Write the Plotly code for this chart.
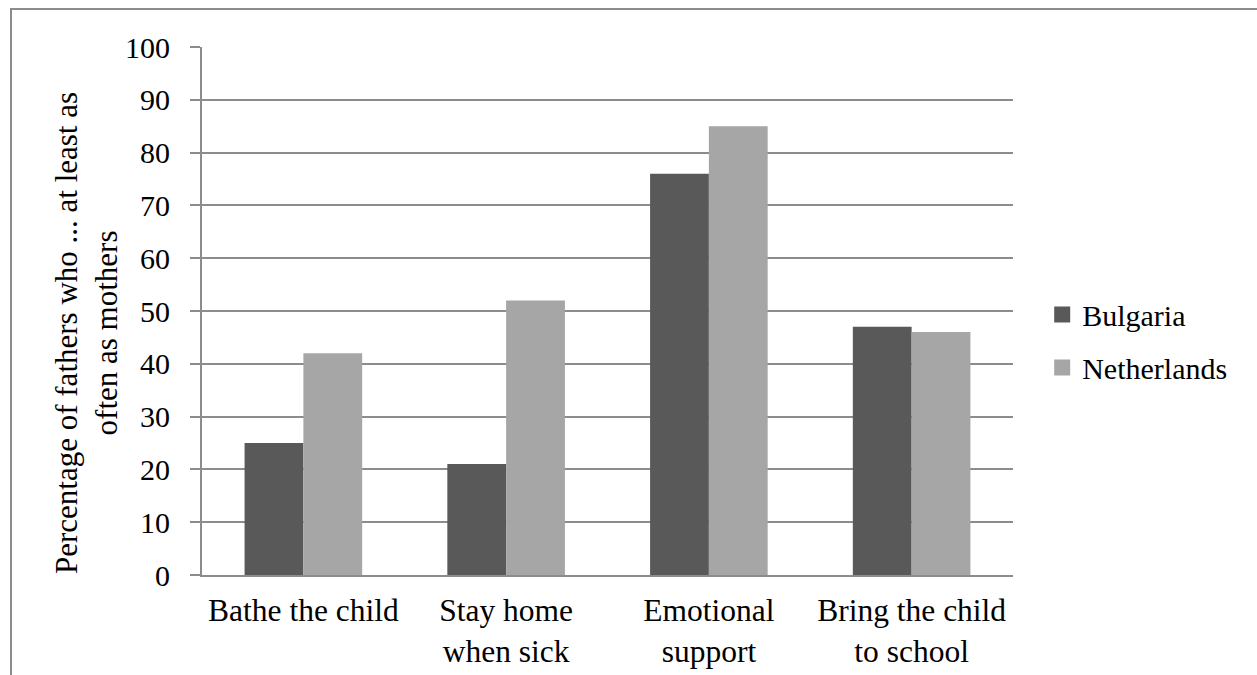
import plotly.graph_objects as go

categories = ["Bathe the child", "Stay home<br>when sick", "Emotional<br>support", "Bring the child<br>to school"]
bulgaria = [25, 21, 76, 47]
netherlands = [42, 52, 85, 46]
series_names = ["Bulgaria", "Netherlands"]
series_colors = ["#595959", "#a6a6a6"]
y_title = "Percentage of fathers who ... at least as<br>often as mothers"

FONT = "Liberation Serif"
GRID = "#8c8c8c"

fig = go.Figure()
for name, vals, col in zip(series_names, [bulgaria, netherlands], series_colors):
    fig.add_trace(go.Bar(x=categories, y=vals, name=name, showlegend=False,
                         marker=dict(color=col, line=dict(width=0))))
# legend entries (square swatches)
for name, col in zip(series_names, series_colors):
    fig.add_trace(go.Scatter(x=[None], y=[None], mode="markers", name=name, legendgroup=name,
                             marker=dict(symbol="square", size=17, color=col), showlegend=True))

fig.update_layout(
    width=1257, height=675,
    margin=dict(l=202, r=244, t=47, b=100, autoexpand=False),
    paper_bgcolor="white", plot_bgcolor="white",
    font=dict(family=FONT, size=30, color="black"),
    barmode="group", bargap=0.42, bargroupgap=0,
    showlegend=True,
    legend=dict(x=1.036, xanchor="left", y=0.443, yanchor="middle",
                font=dict(family=FONT, size=30, color="black"), tracegroupgap=11,
                itemwidth=30, bgcolor="rgba(0,0,0,0)"),
    xaxis=dict(showline=True, linecolor=GRID, linewidth=2, ticks="", showgrid=False,
               tickfont=dict(family=FONT, size=31.5, color="black"), ticklabelstandoff=6),
    yaxis=dict(range=[0, 100], dtick=10, tick0=0, showgrid=True, gridcolor=GRID, gridwidth=2,
               showline=True, linecolor=GRID, linewidth=2, ticks="outside", ticklen=10,
               tickcolor=GRID, tickwidth=2, tickfont=dict(family=FONT, size=30, color="black"),
               ticklabelstandoff=14, zeroline=False),
)

# y-axis title
fig.add_annotation(text=y_title, xref="paper", yref="paper", x=(86 - 202) / 811, y=(575 - 333) / 528,
                   xanchor="center", yanchor="middle", textangle=-90, showarrow=False,
                   font=dict(family=FONT, size=31, color="black"), align="center")

# outer chart border (cropped frame: top and left edges visible)
fig.add_shape(type="rect", xref="paper", yref="paper",
              x0=(11 - 202) / 811, x1=1.5, y0=-0.5, y1=(575 - 9) / 528,
              line=dict(color="#8c8c8c", width=2), fillcolor="rgba(0,0,0,0)", layer="below")

fig.write_html("out.html", config={"displayModeBar": False},
               post_script="document.body.style.margin='0';document.body.style.overflow='hidden';")
